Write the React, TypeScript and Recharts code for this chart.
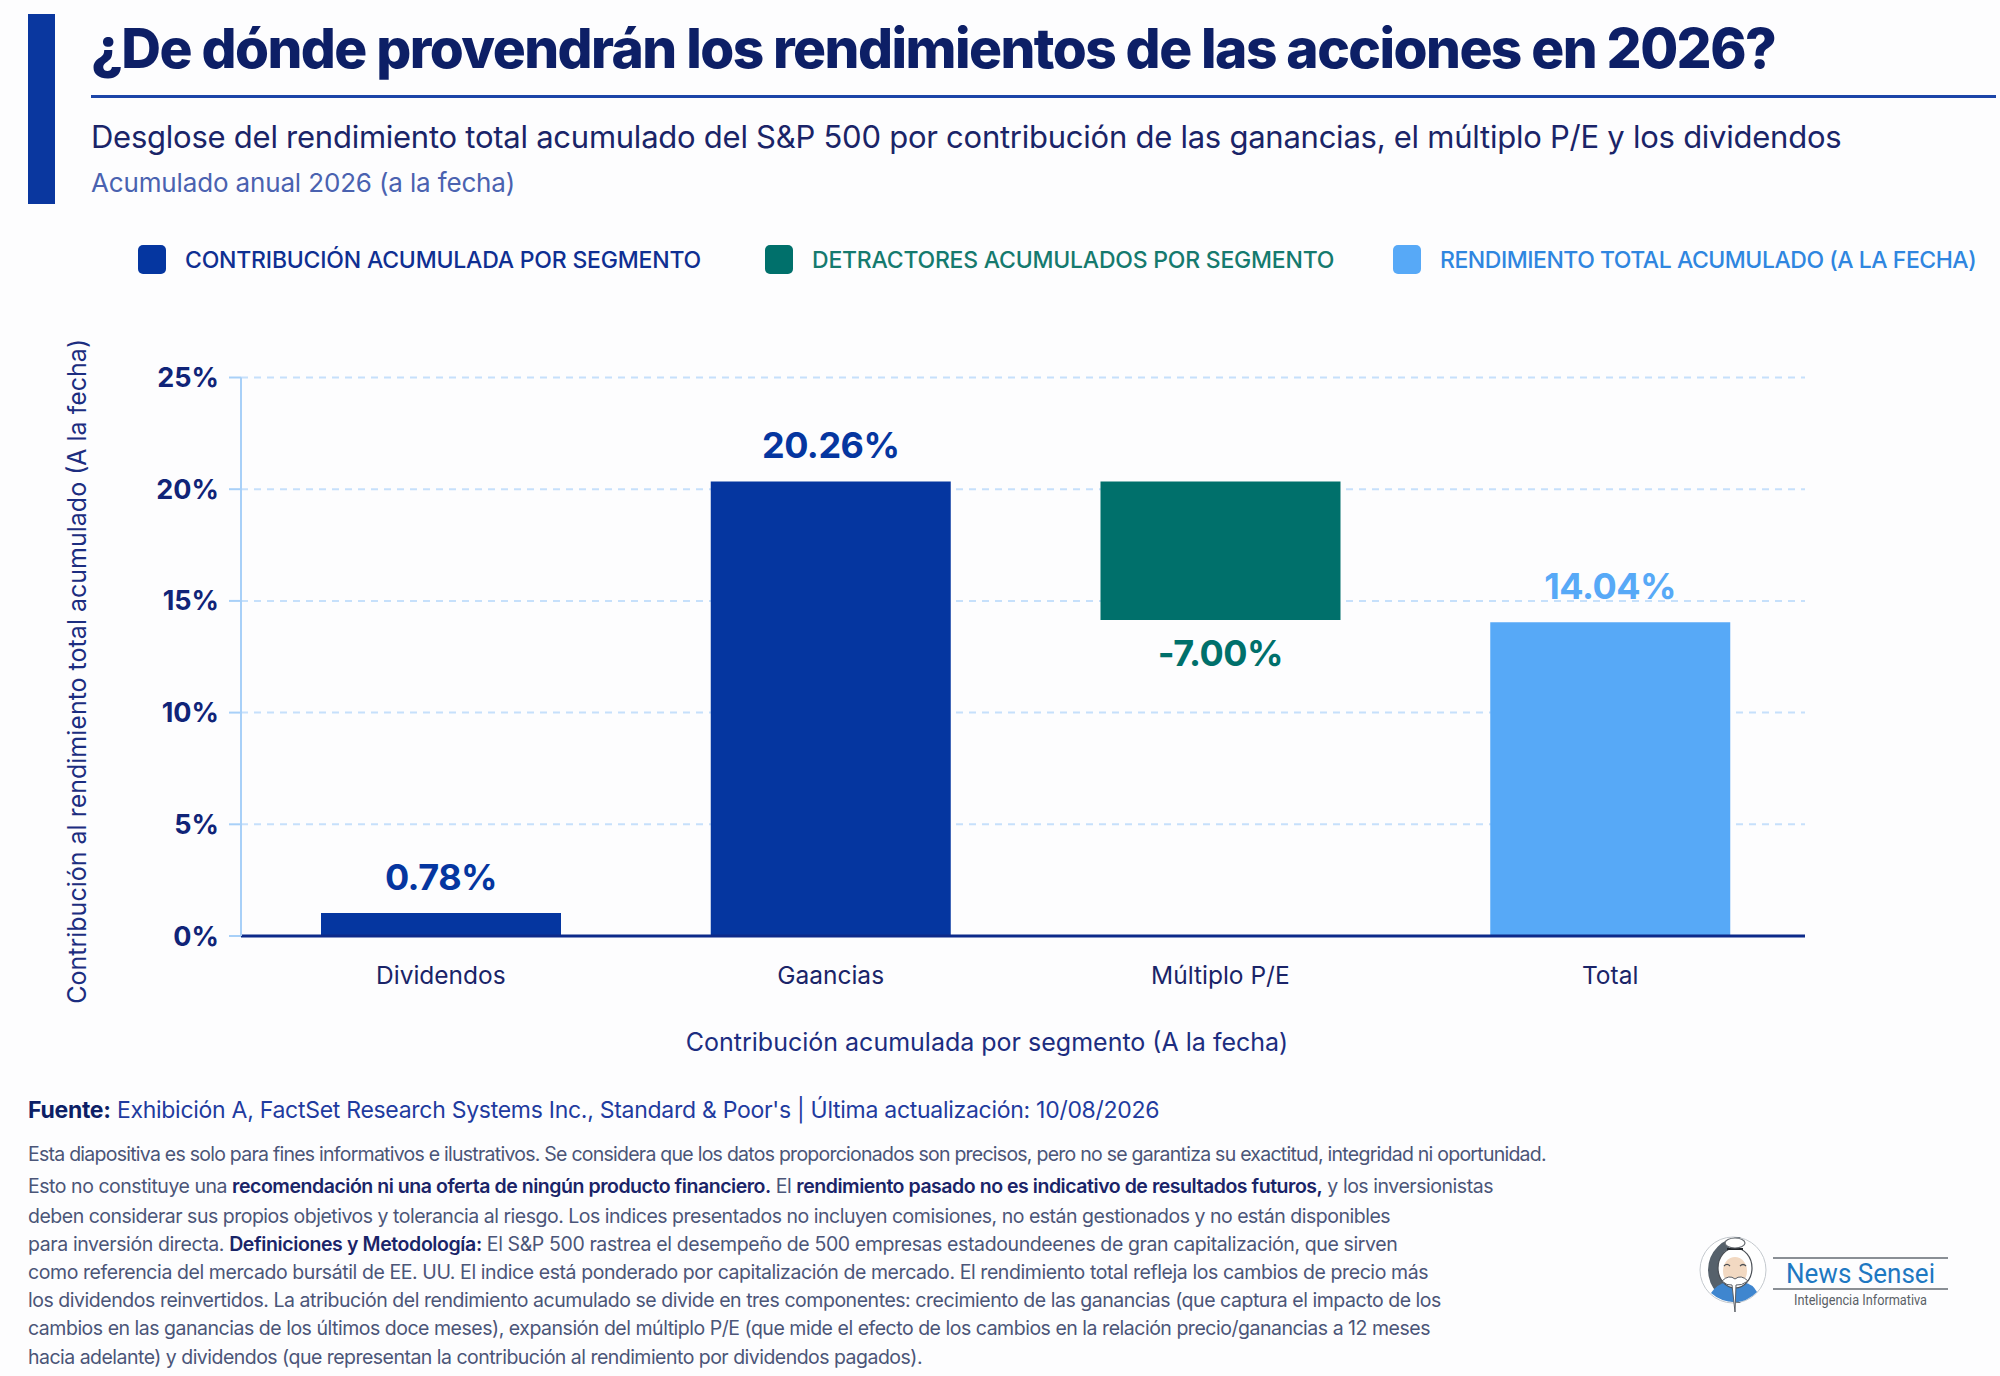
import { Bar, BarChart, CartesianGrid, LabelList, Legend, XAxis, YAxis } from 'recharts';

const categories = ['Dividendos', 'Gaancias', 'Múltiplo P/E', 'Total'];
// heights as drawn in the picture, printed labels kept apart
const offsetValues = [0, 0, 14.15, 0];
const contributionValues = [1.03, 20.35, 0, 0];
const detractorValues = [0, 0, 6.2, 0];
const totalValues = [0, 0, 0, 14.04];
const contributionLabels = ['0.78%', '20.26%', '', ''];
const detractorLabels = ['', '', '-7.00%', ''];
const totalLabels = ['', '', '', '14.04%'];
const yTicks = [0, 5, 10, 15, 20, 25];

const disclaimerLines: [string, boolean][][] = [
  [['Esta diapositiva es solo para fines informativos e ilustrativos. Se considera que los datos proporcionados son precisos, pero no se garantiza su exactitud, integridad ni oportunidad.', false]],
  [['Esto no constituye una ', false], ['recomendación ni una oferta de ningún producto financiero.', true], [' El ', false], ['rendimiento pasado no es indicativo de resultados futuros,', true], [' y los inversionistas', false]],
  [['deben considerar sus propios objetivos y tolerancia al riesgo. Los indices presentados no incluyen comisiones, no están gestionados y no están disponibles', false]],
  [['para inversión directa. ', false], ['Definiciones y Metodología:', true], [' El S&P 500 rastrea el desempeño de 500 empresas estadoundeenes de gran capitalización, que sirven', false]],
  [['como referencia del mercado bursátil de EE. UU. El indice está ponderado por capitalización de mercado. El rendimiento total refleja los cambios de precio más', false]],
  [['los dividendos reinvertidos. La atribución del rendimiento acumulado se divide en tres componentes: crecimiento de las ganancias (que captura el impacto de los', false]],
  [['cambios en las ganancias de los últimos doce meses), expansión del múltiplo P/E (que mide el efecto de los cambios en la relación precio/ganancias a 12 meses', false]],
  [['hacia adelante) y dividendos (que representan la contribución al rendimiento por dividendos pagados).', false]],
];
const disclaimerTops = [1154, 1186, 1216, 1244, 1272, 1300, 1328, 1357];
const disclaimerSpacing = [-0.75, -0.46, -0.49, -0.39, -0.42, -0.46, -0.48, -0.52];

const NAVY = '#0d1f66';
const BLUE = '#0536a0';
const TEAL = '#00706b';
const SKY = '#57a9f7';
const FONT = 'Inter, "Noto Sans", sans-serif';

const data = categories.map((name, i) => ({
  name,
  offset: offsetValues[i],
  contribution: contributionValues[i],
  detractor: detractorValues[i],
  total: totalValues[i],
  contributionLabel: contributionLabels[i],
  detractorLabel: detractorLabels[i],
  totalLabel: totalLabels[i],
}));

const legendLefts = [138, 765, 1393];
const legendTextColors = ['#0f2f92', '#157a6e', '#2f86e0'];
const legendSpacing = [-0.2, -0.22, -0.47];

function ChartLegend({ payload }: any) {
  const items = (payload || []).filter((item: any) => item.dataKey !== 'offset');
  return (
    <div>
      {items.map((item: any, i: number) => (
        <div key={item.value} style={{ position: 'absolute', left: legendLefts[i], top: 245, display: 'flex', alignItems: 'center', whiteSpace: 'nowrap' }}>
          <span style={{ width: 28, height: 29, borderRadius: 5, background: item.color, marginRight: 19 }} />
          <span style={{ fontSize: 23, fontWeight: 500, color: legendTextColors[i], letterSpacing: legendSpacing[i] }}>{item.value}</span>
        </div>
      ))}
    </div>
  );
}

function makeLabel(color: string, below: boolean) {
  return (p: any) => {
    if (!p.value) return null;
    const y = below ? p.y + p.height + 46 : p.y - 23;
    return (
      <text x={p.x + p.width / 2} y={y} textAnchor="middle" fontSize={36} fontWeight={700} fill={color} fontFamily={FONT} letterSpacing={-0.5}>
        {p.value}
      </text>
    );
  };
}

function Logo() {
  return (
    <svg width={270} height={90} style={{ position: 'absolute', left: 1695, top: 1230 }} viewBox="0 0 270 90">
      <circle cx={38} cy={40} r={33} fill="#ffffff" stroke="#c4c9ce" strokeWidth={1} />
      <path d="M46 7 A33 33 0 1 0 46 73 A38 38 0 0 1 46 7Z" fill="#56616b" />
      <path d="M16 63 Q22 54 32 52 L48 52 Q58 54 62 62 Q52 72 40 72 Q26 72 16 63Z" fill="#3f86cf" />
      <ellipse cx={40} cy={38} rx={17} ry={20} fill="#ffffff" stroke="#4a4f55" strokeWidth={1.2} />
      <ellipse cx={40} cy={41} rx={12} ry={14} fill="#f2d9c2" />
      <path d="M29 36 q3 -3 6 0 M45 36 q3 -3 6 0" fill="none" stroke="#4a4f55" strokeWidth={1.2} />
      <path d="M27 51 Q34 44 40 49 Q46 44 53 51 Q46 56 41 55 L40 82 L37 55 Q32 56 27 51Z" fill="#ffffff" stroke="#5a5f66" strokeWidth={1} />
      <rect x={32} y={18} width={16} height={2} fill="#22262b" />
      <ellipse cx={40} cy={13} rx={10} ry={5} fill="#ffffff" stroke="#6a6f75" strokeWidth={1.2} />
      <line x1={78} y1={28} x2={253} y2={28} stroke="#8a8f95" strokeWidth={2} />
      <line x1={78} y1={59} x2={253} y2={59} stroke="#8a8f95" strokeWidth={2} />
      <text x={91} y={53} fontFamily="Roboto, sans-serif" fontSize={28} fill="#1e78c2" textLength={149} lengthAdjust="spacingAndGlyphs">News Sensei</text>
      <text x={99} y={75} fontFamily="Roboto, sans-serif" fontSize={15} fill="#5a5f66" textLength={133} lengthAdjust="spacingAndGlyphs">Inteligencia Informativa</text>
    </svg>
  );
}

export default function App() {
  return (
    <div style={{ position: 'absolute', left: 0, top: 0, width: 2000, height: 1376, background: '#fdfdfe', fontFamily: FONT, overflow: 'hidden' }}>
      <div style={{ position: 'absolute', left: 28, top: 14, width: 27, height: 190, background: '#0a379f' }} />
      <div style={{ position: 'absolute', left: 91, top: 14, fontSize: 55, fontWeight: 800, color: NAVY, letterSpacing: -1.56, whiteSpace: 'nowrap', lineHeight: '68px' }}>
        ¿De dónde provendrán los rendimientos de las acciones en 2026?
      </div>
      <div style={{ position: 'absolute', left: 91, top: 95, width: 1905, height: 3, background: '#1c45a8' }} />
      <div style={{ position: 'absolute', left: 91, top: 117, fontSize: 31, fontWeight: 400, color: '#1a2468', letterSpacing: -0.25, whiteSpace: 'nowrap', lineHeight: '40px' }}>
        Desglose del rendimiento total acumulado del S&amp;P 500 por contribución de las ganancias, el múltiplo P/E y los dividendos
      </div>
      <div style={{ position: 'absolute', left: 91, top: 166, fontSize: 26, color: '#4a62b0', letterSpacing: -0.15, whiteSpace: 'nowrap', lineHeight: '34px' }}>
        Acumulado anual 2026 (a la fecha)
      </div>

      <div style={{ position: 'absolute', left: 0, top: 0 }}>
        <BarChart
          width={2000}
          height={1090}
          data={data}
          margin={{ top: 377.5, right: 195, left: 141, bottom: 94 }}
          barCategoryGap={0}
        >
          <CartesianGrid vertical={false} stroke="#c6e0fb" strokeWidth={2} strokeDasharray="7 6" />
          <XAxis
            dataKey="name"
            height={60}
            padding={{ left: 5, right: 0 }}
            axisLine={{ stroke: '#0d2a8a', strokeWidth: 3 }}
            tickLine={false}
            tickMargin={25}
            tick={{ fontSize: 24.5, fill: '#1a2468', fontFamily: FONT }}
            label={{ value: 'Contribución acumulada por segmento (A la fecha)', position: 'insideBottom', dx: -36, dy: 60, fontSize: 25, fill: '#1c2d80', fontFamily: FONT }}
          />
          <YAxis
            width={100}
            domain={[0, 25]}
            ticks={yTicks}
            tickFormatter={(v: number) => `${v}%`}
            axisLine={{ stroke: '#a8d0f8', strokeWidth: 2 }}
            tickLine={{ stroke: '#a8d0f8', strokeWidth: 2 }}
            tickSize={12}
            tickMargin={10}
            tick={{ fontSize: 27, fontWeight: 700, fill: '#102478', fontFamily: FONT }}
            label={{ value: 'Contribución al rendimiento total acumulado (A la fecha)', angle: -90, position: 'insideLeft', dx: -69, dy: 347, fontSize: 25, fill: '#1c2d80', fontFamily: FONT }}
          />
          <Legend content={<ChartLegend />} wrapperStyle={{ left: 0, top: 0, bottom: 'auto', width: 2000, height: 0 }} />
          <Bar dataKey="offset" stackId="a" fill="transparent" legendType="none" barSize={240} isAnimationActive={false} />
          <Bar dataKey="contribution" name="CONTRIBUCIÓN ACUMULADA POR SEGMENTO" stackId="a" fill={BLUE} barSize={240} isAnimationActive={false}>
            <LabelList dataKey="contributionLabel" content={makeLabel(BLUE, false)} />
          </Bar>
          <Bar dataKey="detractor" name="DETRACTORES ACUMULADOS POR SEGMENTO" stackId="a" fill={TEAL} barSize={240} isAnimationActive={false}>
            <LabelList dataKey="detractorLabel" content={makeLabel(TEAL, true)} />
          </Bar>
          <Bar dataKey="total" name="RENDIMIENTO TOTAL ACUMULADO (A LA FECHA)" stackId="a" fill={SKY} barSize={240} isAnimationActive={false}>
            <LabelList dataKey="totalLabel" content={makeLabel(SKY, false)} />
          </Bar>
        </BarChart>
      </div>

      <div style={{ position: 'absolute', left: 28, top: 1094, fontSize: 23, color: '#1f3b9f', whiteSpace: 'nowrap', lineHeight: '32px', letterSpacing: -0.28 }}>
        <b style={{ color: NAVY }}>Fuente:</b> Exhibición A, FactSet Research Systems Inc., Standard &amp; Poor's | Última actualización: 10/08/2026
      </div>
      {disclaimerLines.map((line, i) => (
        <div key={i} style={{ position: 'absolute', left: 28, top: disclaimerTops[i] - 14, fontSize: 19.5, lineHeight: '28px', color: '#4b5578', whiteSpace: 'nowrap', letterSpacing: disclaimerSpacing[i] }}>
          {line.map(([text, bold], j) => (
            <span key={j} style={bold ? { color: '#1a2468', fontWeight: 600 } : undefined}>{text}</span>
          ))}
        </div>
      ))}
      <Logo />
    </div>
  );
}
